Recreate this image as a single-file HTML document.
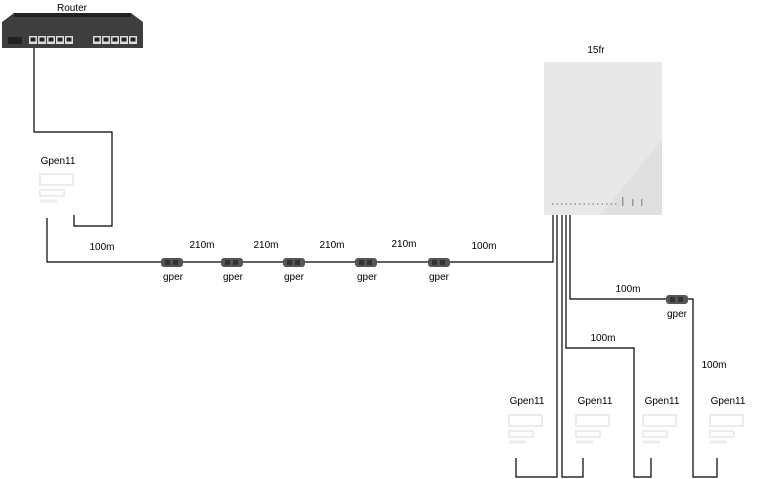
<!DOCTYPE html>
<html><head><style>
html,body{margin:0;padding:0;background:#fff;}
svg{display:block;font-family:"Liberation Sans",sans-serif;}
</style></head><body>
<svg width="761" height="479" viewBox="0 0 761 479" xmlns="http://www.w3.org/2000/svg">
<defs>
<g id="gper">
<rect x="0" y="0" width="22" height="9" rx="3" fill="#555"/>
<rect x="4" y="2" width="5" height="5" fill="#333"/>
<rect x="12" y="2" width="5" height="5" fill="#333"/>
</g>
<g id="gpen" fill="none" stroke="#ececec" stroke-width="2">
<rect x="0" y="8" width="33" height="11"/>
<rect x="0" y="24" width="24" height="6"/>
<line x1="0" y1="35" x2="17" y2="35" stroke-width="3"/>
</g>
<g id="port"><rect x="0" y="0" width="8" height="8" fill="#ddd"/><rect x="1.5" y="1.5" width="5" height="4" fill="#222"/></g>
</defs>
<!-- Router -->
<text x="72" y="11" font-size="10" text-anchor="middle">Router</text>
<path d="M14 13 L131 13 L143 22 L143 48 L2 48 L2 22 Z" fill="#3e3e3e"/>
<rect x="14" y="13" width="117" height="4" fill="#222"/>
<rect x="8" y="37" width="14" height="7" fill="#222"/>
<use href="#port" x="29" y="36"/><use href="#port" x="38" y="36"/><use href="#port" x="47" y="36"/><use href="#port" x="56" y="36"/><use href="#port" x="65" y="36"/>
<use href="#port" x="93" y="36"/><use href="#port" x="102" y="36"/><use href="#port" x="111" y="36"/><use href="#port" x="120" y="36"/><use href="#port" x="129" y="36"/>
<!-- 15fr -->
<text x="596" y="53" font-size="10" text-anchor="middle">15fr</text>
<rect x="544" y="62" width="118" height="153" fill="#e8e8e8"/>
<path d="M600 215 L662 140 L662 215 Z" fill="#e0e0e0"/>
<line x1="552" y1="204" x2="618" y2="204" stroke="#888" stroke-width="1.2" stroke-dasharray="1.5 3"/>
<g fill="#999"><rect x="622" y="197" width="1.5" height="9"/><rect x="632" y="199" width="1.5" height="7"/><rect x="641" y="199" width="1.5" height="7"/></g>
<g fill="none" stroke="#000" stroke-width="1.2">
<polyline points="34,48 34,132 112,132 112,226 74,226 74,215"/>
<polyline points="47,218 47,262 553,262 553,215"/>
<polyline points="557,215 557,477 516,477 516,458"/>
<polyline points="562,215 562,477 583,477 583,458"/>
<polyline points="566,215 566,348 634,348 634,477 651,477 651,458"/>
<polyline points="570,215 570,299 693,299 693,477 717,477 717,458"/>
</g>
<!-- gpers -->
<use href="#gper" x="161" y="258"/><use href="#gper" x="221" y="258"/><use href="#gper" x="283" y="258"/><use href="#gper" x="355" y="258"/><use href="#gper" x="428" y="258"/><use href="#gper" x="666" y="295"/>
<g font-size="10" text-anchor="middle">
<text x="173" y="280">gper</text><text x="233" y="280">gper</text><text x="294" y="280">gper</text><text x="367" y="280">gper</text><text x="439" y="280">gper</text><text x="677" y="317">gper</text>
<text x="102" y="250">100m</text><text x="202" y="248">210m</text><text x="266" y="248">210m</text><text x="332" y="248">210m</text><text x="404" y="247">210m</text><text x="484" y="249">100m</text>
<text x="628" y="292">100m</text><text x="603" y="341">100m</text><text x="714" y="368">100m</text>
<text x="58" y="164">Gpen11</text><text x="527" y="404">Gpen11</text><text x="595" y="404">Gpen11</text><text x="662" y="404">Gpen11</text><text x="728" y="404">Gpen11</text>
</g>
<use href="#gpen" x="40" y="166"/>
<use href="#gpen" x="509" y="407"/><use href="#gpen" x="576" y="407"/><use href="#gpen" x="643" y="407"/><use href="#gpen" x="710" y="407"/>
</svg>
</body></html>
